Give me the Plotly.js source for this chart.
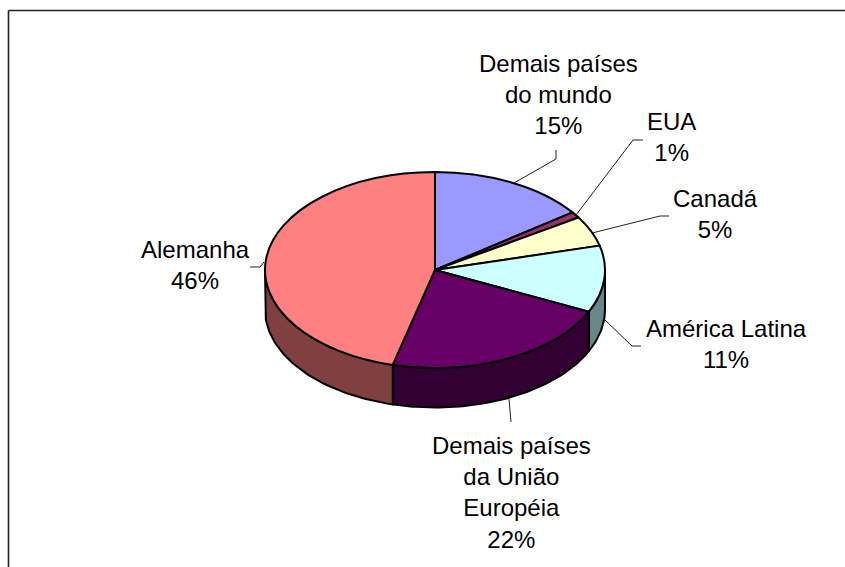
<!DOCTYPE html>
<html><head><meta charset="utf-8">
<script src="https://cdn.plot.ly/plotly-3.0.1.min.js"></script>
<style>html,body{margin:0;padding:0;background:#fff}#c{width:845px;height:567px}</style>
</head><body><div id="c"></div>
<script>
var categories = ["Demais países do mundo","EUA","Canadá","América Latina","Demais países da União Européia","Alemanha"];
var shares = [15,1,5,11,22,46];
var topColors = ["#9999FF","#993366","#FFFFCC","#CCFFFF","#660066","#FF8080"];
var sideColors = ["#6B6BB3","#6B2447","#B3B38F","#688888","#330033","#804040"];
var labelLines = [["Demais países","do mundo","15%"],["EUA","1%"],["Canadá","5%"],["América Latina","11%"],["Demais países","da União","Européia","22%"],["Alemanha","46%"]];

var W=845,H=567,cx=435,cy=270,rx=170,ry=98,depth=39.5;
var traces=[];
var cum=0;
shares.forEach(function(v,i){
  var a0=cum/100*2*Math.PI, a1=(cum+v)/100*2*Math.PI; cum+=v;
  var lo=Math.max(a0,Math.PI/2), hi=Math.min(a1,Math.PI*3/2);
  if(hi<=lo) return;
  var xs=[],ys=[],n=Math.ceil((hi-lo)/0.02),k,t;
  for(k=0;k<=n;k++){t=lo+(hi-lo)*k/n;xs.push(cx+rx*Math.sin(t));ys.push(cy-ry*Math.cos(t));}
  for(k=n;k>=0;k--){t=lo+(hi-lo)*k/n;xs.push(cx+rx*Math.sin(t));ys.push(cy-ry*Math.cos(t)+depth);}
  xs.push(xs[0]);ys.push(ys[0]);
  traces.push({type:"scatter",mode:"lines",x:xs,y:ys,fill:"toself",fillcolor:sideColors[i],
    line:{color:"#000",width:2},hoverinfo:"skip",showlegend:false});
});
var leaders=[
 {x:[514,556,556],y:[183,159,150]},
 {x:[576,633,643],y:[215,140,140]},
 {x:[592,660,669],y:[233,216,216]},
 {x:[605,632,641],y:[320,346,346]},
 {x:[509,511],y:[399,422]},
 {x:[264,260,250],y:[262,267,267]}
];
leaders.forEach(function(l){traces.push({type:"scatter",mode:"lines",x:l.x,y:l.y,line:{color:"#222",width:1},hoverinfo:"skip",showlegend:false});});
traces.push({type:"pie",labels:categories,values:shares,sort:false,direction:"clockwise",rotation:0,
  marker:{colors:topColors,line:{color:"#000",width:2}},textinfo:"none",hoverinfo:"label+percent",showlegend:false,
  domain:{x:[(cx-rx)/W,(cx+rx)/W],y:[1-(cy+rx)/H,1-(cy-rx)/H]}});

var anchors=[[558,48],[671,106],[715,183],[726,313],[511,430],[195,234]];
var annotations=labelLines.map(function(ls,i){
  return {x:anchors[i][0],y:anchors[i][1],xref:"x",yref:"y",text:ls.join("<br>"),showarrow:false,
    xanchor:"center",yanchor:"top",align:"center",font:{family:"Liberation Sans, Arial, sans-serif",size:24,color:"#000"}};
});
var layout={width:W,height:H,margin:{l:0,r:0,t:0,b:0},paper_bgcolor:"#fff",plot_bgcolor:"#fff",showlegend:false,
  xaxis:{range:[0,W],visible:false,fixedrange:true},
  yaxis:{range:[H,0],visible:false,fixedrange:true},
  annotations:annotations,
  shapes:[{type:"line",xref:"x",yref:"y",x0:8.5,y0:10.5,x1:845,y1:10.5,line:{color:"#222",width:1.6},layer:"below"},
          {type:"line",xref:"x",yref:"y",x0:8.5,y0:10.5,x1:8.5,y1:567,line:{color:"#222",width:1.6},layer:"below"}]};
Plotly.newPlot("c",traces,layout,{staticPlot:true,displayModeBar:false}).then(function(){
  document.querySelectorAll(".pielayer .trace .slice path").forEach(function(p){
    p.setAttribute("vector-effect","non-scaling-stroke");
  });
  document.querySelector(".pielayer").setAttribute("transform","translate(0 "+cy+") scale(1 "+(ry/rx)+") translate(0 "+(-cy)+")");
});
</script></body></html>
